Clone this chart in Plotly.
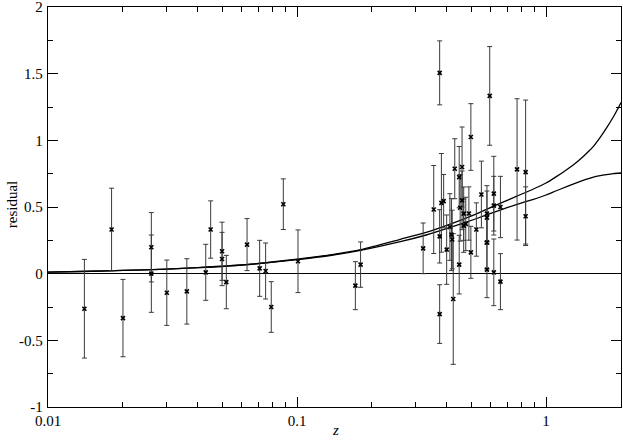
import plotly.graph_objects as go

# supernova residual data
z_sn = [0.0140, 0.0180, 0.0200, 0.0260, 0.0260, 0.0300, 0.0361, 0.0430, 0.0450,
        0.0500, 0.0500, 0.0520, 0.0630, 0.0708, 0.0748, 0.0788, 0.0881, 0.1009,
        0.1715, 0.1800,
        0.321, 0.354, 0.374, 0.374, 0.374, 0.380, 0.388, 0.399, 0.411, 0.417,
        0.420, 0.424, 0.430, 0.448, 0.448, 0.452, 0.460, 0.460, 0.467, 0.467,
        0.476, 0.490, 0.499, 0.499, 0.525, 0.550, 0.579, 0.579, 0.579, 0.579,
        0.594, 0.617, 0.617, 0.617, 0.656, 0.656, 0.765, 0.828, 0.828]
resid_sn = [-0.263, 0.331, -0.333, 0.198, 0.000, -0.143, -0.133, 0.010, 0.331,
            0.168, 0.110, -0.063, 0.218, 0.040, 0.020, -0.250, 0.521, 0.093,
            -0.090, 0.068,
            0.190, 0.481, 1.506, -0.303, 0.280, 0.531, 0.544, 0.180, 0.350, 0.293,
            0.256, -0.190, 0.787, 0.724, 0.068, 0.494, 0.800, 0.550, 0.450, 0.360,
            0.373, 0.451, 1.025, 0.160, 0.331, 0.594, 0.450, 0.420, 0.235, 0.030,
            1.333, 0.600, 0.510, 0.010, 0.500, -0.060, 0.782, 0.762, 0.431]
err_sn = [0.37, 0.31, 0.29, 0.26, 0.29, 0.245, 0.245, 0.21, 0.215,
          0.218, 0.20, 0.20, 0.195, 0.21, 0.21, 0.19, 0.19, 0.235,
          0.18, 0.17,
          0.19, 0.33, 0.24, 0.22, 0.20, 0.37, 0.20, 0.26, 0.25, 0.27,
          0.22, 0.49, 0.225, 0.23, 0.22, 0.25, 0.30, 0.22, 0.20, 0.20,
          0.20, 0.20, 0.25, 0.195, 0.20, 0.25, 0.21, 0.20, 0.20, 0.21,
          0.37, 0.28, 0.22, 0.25, 0.23, 0.21, 0.53, 0.54, 0.22]

# model curves
z_curve = [0.01, 0.015, 0.02, 0.03, 0.04, 0.06, 0.1, 0.14, 0.18, 0.26, 0.33, 0.41, 0.52, 0.65, 0.76, 0.89,
           1.0, 1.1, 1.21, 1.3, 1.4, 1.48, 1.55, 1.65, 1.75, 1.86, 1.93, 2.0]
model_a = [0.012, 0.018, 0.024, 0.034, 0.045, 0.065, 0.108, 0.145, 0.18, 0.258, 0.31, 0.37, 0.445, 0.525,
           0.58, 0.635, 0.68, 0.728, 0.78, 0.822, 0.873, 0.916, 0.955, 1.022, 1.093, 1.173, 1.227, 1.284]
model_b = [0.012, 0.018, 0.024, 0.034, 0.045, 0.065, 0.105, 0.14, 0.175, 0.24, 0.29, 0.345, 0.41, 0.475,
           0.518, 0.558, 0.59, 0.622, 0.652, 0.675, 0.697, 0.712, 0.724, 0.735, 0.743, 0.75, 0.753, 0.755]

x_tickvals = [0.01, 0.1, 1]
x_ticktext = ["0.01", "0.1", "1"]
x_minor = [0.02, 0.03, 0.04, 0.05, 0.06, 0.07, 0.08, 0.09,
           0.2, 0.3, 0.4, 0.5, 0.6, 0.7, 0.8, 0.9]
y_tickvals = [-1, -0.5, 0, 0.5, 1, 1.5, 2]
y_ticktext = ["-1", "-0.5", "0", "0.5", "1", "1.5", "2"]
y_minor = [-0.75, -0.25, 0.25, 0.75, 1.25, 1.75]

font = "Liberation Serif, Times New Roman, serif"

fig = go.Figure()
fig.add_trace(go.Scatter(x=z_curve, y=model_a, mode="lines",
                         line=dict(color="black", width=1.3, shape="spline", smoothing=0.6),
                         showlegend=False, hoverinfo="skip"))
fig.add_trace(go.Scatter(x=z_curve, y=model_b, mode="lines",
                         line=dict(color="black", width=1.3, shape="spline", smoothing=0.6),
                         showlegend=False, hoverinfo="skip"))
fig.add_trace(go.Scatter(
    x=z_sn, y=resid_sn, mode="markers",
    marker=dict(symbol="x-thin", size=4, color="black", line=dict(color="black", width=1.6)),
    error_y=dict(type="data", array=err_sn, visible=True, color="#3a3a3a", thickness=1, width=2.5),
    showlegend=False))

axis_common = dict(showline=True, linecolor="black", linewidth=1.3, mirror="ticks",
                   ticks="inside", ticklen=10, tickwidth=1.2, tickcolor="black",
                   showgrid=False, automargin=False, ticklabeloverflow="allow",
                   tickfont=dict(family=font, size=15, color="black"))

fig.update_layout(
    width=623, height=440,
    margin=dict(l=48, r=2, t=7, b=33, autoexpand=False),
    paper_bgcolor="white", plot_bgcolor="white",
    xaxis=dict(type="log", range=[-2, 0.30103], tickmode="array", tickvals=x_tickvals, ticktext=x_ticktext,
               minor=dict(tickmode="array", tickvals=x_minor, ticks="inside", ticklen=5, tickcolor="black", tickwidth=1, showgrid=False),
               zeroline=False, ticklabelstandoff=0, **axis_common),
    yaxis=dict(range=[-1, 2], tickmode="array", tickvals=y_tickvals, ticktext=y_ticktext,
               minor=dict(tickmode="array", tickvals=y_minor, ticks="inside", ticklen=5, tickcolor="black", tickwidth=1, showgrid=False),
               zeroline=True, zerolinecolor="black", zerolinewidth=1.3, ticklabelstandoff=1, **axis_common),
    annotations=[
        dict(text="residual", xref="paper", yref="paper", x=-0.0634, y=0.506, textangle=-90,
             showarrow=False, font=dict(family=font, size=15, color="black"), xanchor="center", yanchor="middle"),
        dict(text="<i>z</i>", xref="paper", yref="paper", x=0.501, y=-0.058,
             showarrow=False, font=dict(family=font, size=15, color="black"), xanchor="center", yanchor="middle"),
    ],
)

fig.write_html("out.html", config={"displayModeBar": False},
               post_script="document.body.style.margin='0';document.body.style.overflow='hidden';")
